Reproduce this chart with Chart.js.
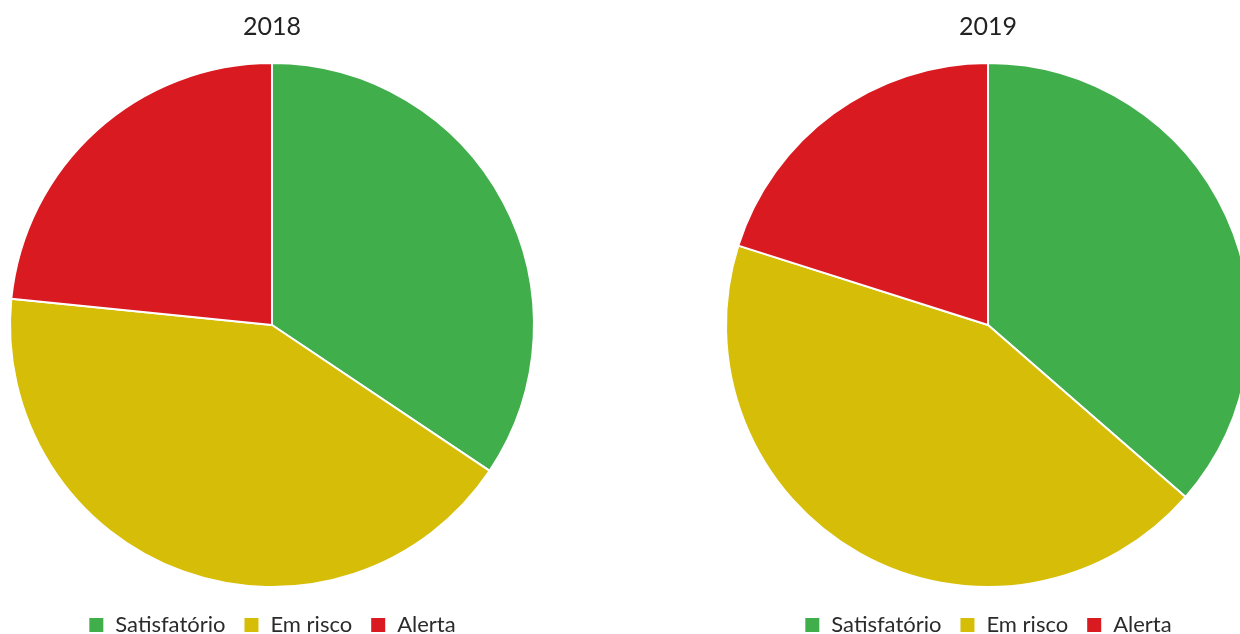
<!DOCTYPE html>
<html>
<head>
<meta charset="utf-8">
<script src="https://cdn.jsdelivr.net/npm/chart.js@4"></script>
<style>
  html, body { margin: 0; padding: 0; background: #fff; overflow: hidden; width: 1240px; height: 634px; }
  .box { position: absolute; top: 0; width: 544px; height: 646px; }
  #b2018 { left: 0; }
  #b2019 { left: 716px; }
</style>
</head>
<body>
<div class="box" id="b2018"><canvas id="c2018"></canvas></div>
<div class="box" id="b2019"><canvas id="c2019"></canvas></div>
<script>
const categories = ['Satisfatório', 'Em risco', 'Alerta'];
const values2018 = [34.4, 42.2, 23.4];
const values2019 = [36.4, 43.5, 20.1];
const colors = ['#41ae4c', '#d6bd07', '#da1a21'];

function drawPie(id, year, values) {
    const ctx = document.getElementById(id).getContext('2d');
    new Chart(ctx, {
        type: 'pie',
        data: {
            labels: categories,
            datasets: [{
                data: values,
                backgroundColor: colors,
                borderColor: '#ffffff',
                borderWidth: 2
            }]
        },
        options: {
            responsive: true,
            maintainAspectRatio: false,
            animation: false,
            radius: 262,
            layout: { padding: 0 },
            plugins: {
                title: {
                    display: true,
                    text: year,
                    color: '#222222',
                    font: { family: 'Lato', size: 25, weight: 'normal' },
                    padding: { top: 12, bottom: 12 }
                },
                legend: {
                    position: 'bottom',
                    labels: {
                        color: '#2b2b2b',
                        font: { family: 'Lato', size: 22 },
                        boxWidth: 16,
                        boxHeight: 16,
                        padding: 18
                    }
                },
                tooltip: { enabled: false }
            }
        }
    });
}

drawPie('c2018', '2018', values2018);
drawPie('c2019', '2019', values2019);
</script>
</body>
</html>
